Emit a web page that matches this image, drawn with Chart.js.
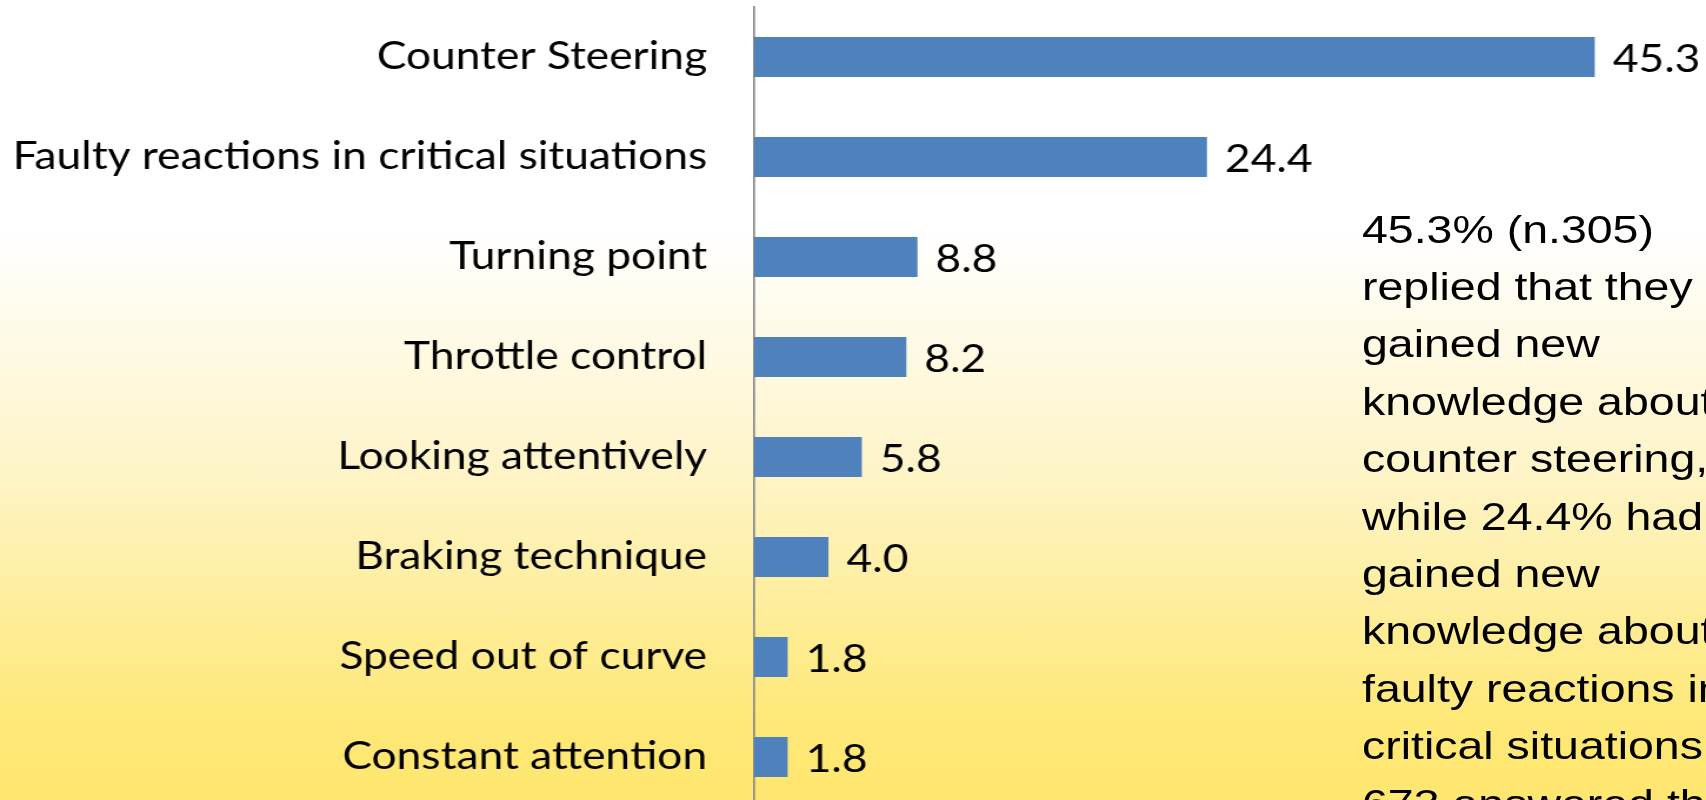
<!DOCTYPE html>
<html>
<head>
<meta charset="utf-8">
<script src="https://cdn.jsdelivr.net/npm/chart.js@4"></script>
<style>
  html, body { margin: 0; padding: 0; width: 1706px; height: 800px; overflow: hidden; }
  body {
    background: linear-gradient(to bottom, #ffffff 0px, #ffffff 230px, #fef4c8 470px, #fee877 720px, #ffe670 800px);
    position: relative;
  }
  #wrap {
    position: absolute; left: 0; top: 0; width: 1450px; height: 820px;
    transform: scaleX(1.1766); transform-origin: 0 0;
  }
  #note {
    position: absolute; left: 1362px; top: 200.6px; width: 400px;
    font-family: "Liberation Sans", Arial, sans-serif; font-size: 39.5px; line-height: 57.4px;
    color: #000; white-space: nowrap;
    transform: scaleX(1.1766); transform-origin: 0 0;
  }
</style>
</head>
<body>
<div id="wrap"><canvas id="c" width="1450" height="820"></canvas></div>
<div id="note">45.3% (n.305)<br>replied that they<br>gained new<br>knowledge about<br>counter steering,<br>while 24.4% had<br>gained new<br>knowledge about<br>faulty reactions in<br>critical situations.<br>673 answered the</div>
<script>
const categories = [
  "Counter Steering",
  "Faulty reactions in critical situations",
  "Turning point",
  "Throttle control",
  "Looking attentively",
  "Braking technique",
  "Speed out of curve",
  "Constant attention"
];
const percentValues = [45.3, 24.4, 8.8, 8.2, 5.8, 4.0, 1.8, 1.8];

const LABEL_FONT = { family: "Lato, 'Open Sans', sans-serif", size: 37.7 };

const valueLabels = {
  id: 'valueLabels',
  afterDatasetsDraw(chart) {
    const ctx = chart.ctx;
    const meta = chart.getDatasetMeta(0);
    ctx.save();
    ctx.font = LABEL_FONT.size + 'px ' + LABEL_FONT.family;
    ctx.fillStyle = '#000';
    ctx.textAlign = 'left';
    ctx.textBaseline = 'alphabetic';
    meta.data.forEach((bar, i) => {
      ctx.fillText(percentValues[i].toFixed(1), bar.x + 15.3, bar.y + 14.5);
    });
    ctx.restore();
  }
};

new Chart(document.getElementById('c'), {
  type: 'bar',
  data: {
    labels: categories,
    datasets: [{
      data: percentValues,
      backgroundColor: '#4F81BD',
      borderWidth: 0,
      barPercentage: 0.8,
      categoryPercentage: 0.5
    }]
  },
  options: {
    indexAxis: 'y',
    responsive: false,
    animation: false,
    events: [],
    layout: { padding: { top: 7, bottom: 13, left: 0, right: 0 } },
    plugins: { legend: { display: false }, tooltip: { enabled: false } },
    scales: {
      x: { display: false, min: 0, max: 51.3 },
      y: {
        grid: { display: false, drawTicks: false },
        border: { display: true, color: '#8a8a8a', width: 1.7 },
        ticks: { color: '#000', font: LABEL_FONT, padding: 40 },
        afterFit(scale) {
          scale.width = 641;
          scale.paddingTop = 0;
          scale.paddingBottom = 0;
        }
      }
    }
  },
  plugins: [valueLabels]
});
</script>
</body>
</html>
